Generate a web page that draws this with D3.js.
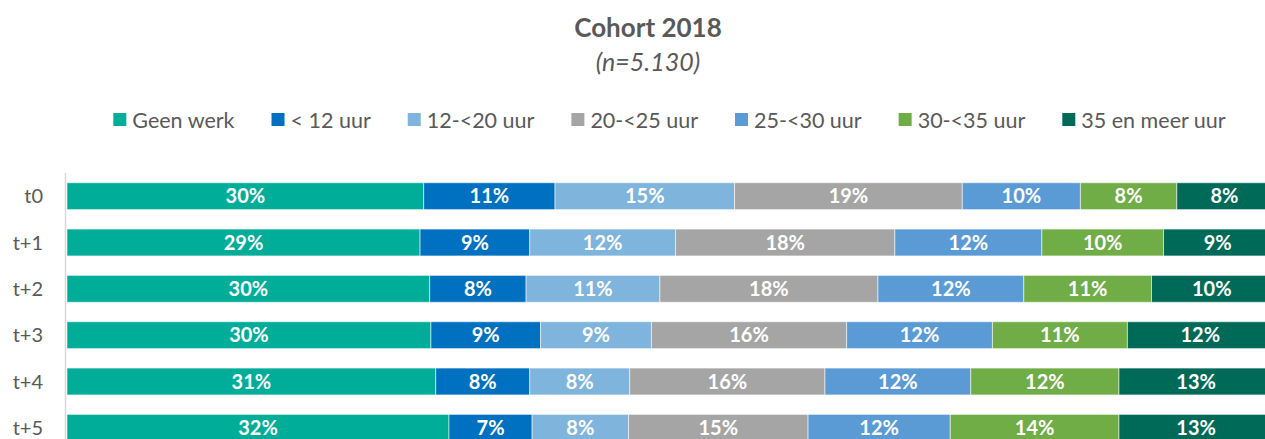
<!DOCTYPE html>
<html>
<head>
<meta charset="utf-8">
<script src="https://cdn.jsdelivr.net/npm/d3@7"></script>
<style>
  body { margin: 0; background: #fff; }
  text { font-family: Lato, "Open Sans", sans-serif; }
</style>
</head>
<body>
<div id="chart"></div>
<script>
// categories and series, values in percent
var rows = ["t0", "t+1", "t+2", "t+3", "t+4", "t+5"];
var series = ["Geen werk", "< 12 uur", "12-<20 uur", "20-<25 uur", "25-<30 uur", "30-<35 uur", "35 en meer uur"];
var colors = ["#00ad99", "#0070c0", "#7fb4dd", "#a5a5a5", "#5b9bd5", "#70ad47", "#006a58"];

var geenWerk   = [29.6, 29.3, 30.1, 30.2, 30.6, 31.7];
var onder12    = [10.9, 9.1, 8.0, 9.1, 7.8, 6.9];
var u12tot20   = [14.9, 12.1, 11.1, 9.2, 8.3, 8.0];
var u20tot25   = [18.9, 18.2, 18.1, 16.2, 16.2, 14.9];
var u25tot30   = [9.8, 12.2, 12.1, 12.1, 12.1, 11.8];
var u30tot35   = [8.0, 10.1, 10.6, 11.2, 12.3, 14.0];
var u35meer    = [7.9, 9.0, 10.0, 12.1, 12.8, 12.8];

var title = "Cohort 2018";
var subtitle = "(n=5.130)";

var width = 1265,
  height = 439;

var allValues = [geenWerk, onder12, u12tot20, u20tot25, u25tot30, u30tot35, u35meer];

// build table for d3.stack
var table = rows.map(function (r, i) {
  var o = { row: r };
  series.forEach(function (s, j) { o[s] = allValues[j][i]; });
  return o;
});

var stacked = d3.stack().keys(series)(table);

var svg = d3.select('#chart')
  .append('svg')
  .attr('width', width)
  .attr('height', height)

var x = d3.scaleLinear().domain([0, 100]).range([67, 1272]);
var y = d3.scaleBand().domain(rows).range([173, 451]).paddingInner(0.42).paddingOuter(0.21);
var color = d3.scaleOrdinal().domain(series).range(colors);

// title
svg.append('text')
  .attr('x', 648).attr('y', 37)
  .attr('text-anchor', 'middle')
  .style('font-size', '26px').style('font-weight', 'bold')
  .style('fill', '#595959')
  .text(title)

svg.append('text')
  .attr('x', 648).attr('y', 71)
  .attr('text-anchor', 'middle')
  .style('font-size', '25px').style('font-style', 'italic')
  .style('fill', '#595959')
  .text(subtitle)

// legend
var legend = svg.append('g');
var items = legend.selectAll('g')
  .data(series)
  .join('g')

items.append('rect')
  .attr('width', 13).attr('height', 13)
  .attr('y', 113)
  .attr('fill', d => color(d))

items.append('text')
  .attr('x', 19).attr('y', 127.5)
  .style('font-size', '21.5px')
  .style('fill', '#595959')
  .text(d => d)

var pos = 0, gap = 37;
items.each(function (d) {
  var w = 19 + d3.select(this).select('text').node().getComputedTextLength();
  d3.select(this).attr('transform', 'translate(' + pos + ',0)');
  pos += w + gap;
});
var legendWidth = pos - gap;
legend.attr('transform', 'translate(' + ((x(0) + x(100)) / 2 - legendWidth / 2) + ',0)');

// bars
var groups = svg.selectAll('g.layer')
  .data(stacked)
  .join('g')
  .attr('class', 'layer')
  .attr('fill', d => color(d.key))

groups.selectAll('rect')
  .data(d => d)
  .join('rect')
  .attr('x', d => x(d[0]))
  .attr('y', d => y(d.data.row))
  .attr('width', d => x(d[1]) - x(d[0]))
  .attr('height', y.bandwidth())
  .style('stroke', '#ffffff')
  .style('stroke-opacity', 0.55)
  .style('stroke-width', 1)

groups.selectAll('text')
  .data(d => d)
  .join('text')
  .attr('x', d => (x(d[0]) + x(d[1])) / 2)
  .attr('y', d => y(d.data.row) + y.bandwidth() / 2)
  .attr('dy', '0.36em')
  .attr('text-anchor', 'middle')
  .style('fill', '#ffffff')
  .style('font-size', '20px')
  .style('font-weight', 'bold')
  .text(d => Math.round(d[1] - d[0]) + '%')

// y axis line and category labels
svg.append('line')
  .attr('x1', 65.5).attr('x2', 65.5)
  .attr('y1', y.range()[0]).attr('y2', y.range()[1])
  .style('stroke', '#d9d9d9')
  .style('stroke-width', 1.5)

svg.selectAll('text.cat')
  .data(rows)
  .join('text')
  .attr('class', 'cat')
  .attr('x', 43)
  .attr('y', d => y(d) + y.bandwidth() / 2)
  .attr('dy', '0.36em')
  .attr('text-anchor', 'end')
  .style('font-size', '20px')
  .style('fill', '#595959')
  .text(d => d)
</script>
</body>
</html>
